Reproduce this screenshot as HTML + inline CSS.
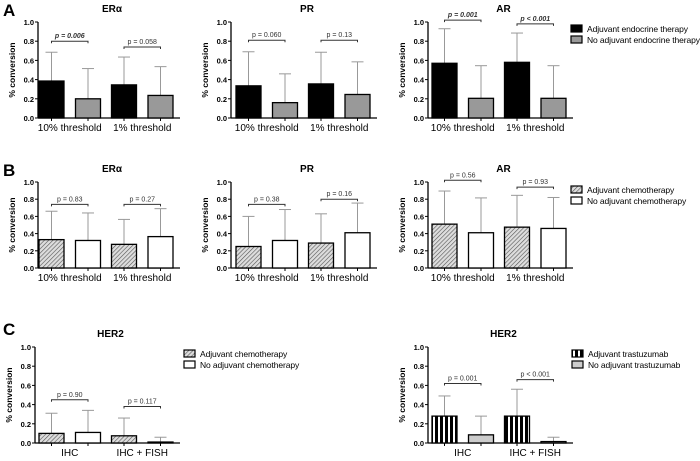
<!DOCTYPE html>
<html><head><meta charset="utf-8"><style>
body{margin:0;background:#fff}
svg{display:block;font-family:"Liberation Sans",Arial,sans-serif}
</style></head><body>
<svg id="fig" width="700" height="461" viewBox="0 0 700 461" xmlns="http://www.w3.org/2000/svg">
<defs>
<pattern id="hatch" width="3" height="3" patternUnits="userSpaceOnUse" patternTransform="rotate(45)"><rect width="3" height="3" fill="#ddd"/><line x1="0" y1="0" x2="0" y2="3" stroke="#555" stroke-width="1.2"/></pattern>
<pattern id="vstripe" width="5" height="5" patternUnits="userSpaceOnUse"><rect width="5" height="5" fill="#fff"/><rect width="3" height="5" fill="#000"/></pattern>
</defs>
<text x="3" y="16" font-size="17" font-weight="bold">A</text>
<text x="3" y="176" font-size="17" font-weight="bold">B</text>
<text x="3" y="335" font-size="17" font-weight="bold">C</text>
</svg>
<script>
const categoriesAB = ["10% threshold", "1% threshold"];
const categoriesC = ["IHC", "IHC + FISH"];
const yTicks = ["0.0", "0.2", "0.4", "0.6", "0.8", "1.0"];
const aEr = [0.385, 0.20, 0.345, 0.235];
const aErErr = [0.685, 0.515, 0.635, 0.535];
const aPr = [0.335, 0.16, 0.355, 0.245];
const aPrErr = [0.69, 0.46, 0.685, 0.585];
const aAr = [0.57, 0.205, 0.58, 0.205];
const aArErr = [0.93, 0.545, 0.885, 0.545];
const bEr = [0.33, 0.32, 0.275, 0.365];
const bErErr = [0.66, 0.64, 0.565, 0.69];
const bPr = [0.25, 0.32, 0.29, 0.41];
const bPrErr = [0.60, 0.68, 0.63, 0.755];
const bAr = [0.51, 0.41, 0.475, 0.46];
const bArErr = [0.895, 0.815, 0.845, 0.82];
const cChemo = [0.10, 0.11, 0.075, 0.01];
const cChemoErr = [0.31, 0.34, 0.26, 0.06];
const cTrast = [0.28, 0.085, 0.28, 0.015];
const cTrastErr = [0.49, 0.28, 0.56, 0.06];
const pA1 = ["p = 0.006", "p = 0.058"]; const pA1y = [0.80, 0.74];
const pA2 = ["p = 0.060", "p = 0.13"]; const pA2y = [0.81, 0.81];
const pA3 = ["p = 0.001", "p < 0.001"]; const pA3y = [1.02, 0.98];
const pB1 = ["p = 0.83", "p = 0.27"]; const pB1y = [0.74, 0.74];
const pB2 = ["p = 0.38", "p = 0.16"]; const pB2y = [0.74, 0.80];
const pB3 = ["p = 0.56", "p = 0.93"]; const pB3y = [1.02, 0.94];
const pC1 = ["p = 0.90", "p = 0.117"]; const pC1y = [0.45, 0.38];
const pC2 = ["p = 0.001", "p < 0.001"]; const pC2y = [0.62, 0.66];

const svg = document.getElementById('fig');
const NS = 'http://www.w3.org/2000/svg';
function mk(tag, attrs, parent){const e=document.createElementNS(NS,tag);for(const k in attrs)e.setAttribute(k,attrs[k]);(parent||svg).appendChild(e);return e;}

function chart(o){
  const g = mk('g',{});
  
  
  const y = v => o.y0 - v*(o.y0-o.y1);
  const offs=[0,36.5,72.5,109];
  const bx = i => o.b0 + offs[i];
  const xEnd = o.b0+109+25+7;
  const t = mk('text',{x:(o.ax+xEnd)/2+3,y:o.y1-10,'font-size':10,'font-weight':'bold','text-anchor':'middle'},g);
  t.textContent=o.title;
  
  
  const yl = mk('text',{x:0,y:0,'font-size':8.5,'font-weight':'bold','text-anchor':'middle',transform:`translate(${o.ax-23},${(o.y0+o.y1)/2}) rotate(-90)`},g);
  yl.textContent='% conversion';
  
  
  mk('line',{x1:o.ax,y1:o.y1,x2:o.ax,y2:o.y0,stroke:'#000','stroke-width':1.3},g);
  mk('line',{x1:o.ax,y1:o.y0,x2:xEnd,y2:o.y0,stroke:'#000','stroke-width':1.3},g);
  yTicks.forEach((lab,i)=>{
    const v=i*0.2;
    mk('line',{x1:o.ax-3,y1:y(v),x2:o.ax,y2:y(v),stroke:'#000'},g);
    const tt=mk('text',{x:o.ax-4,y:y(v)+3,'font-size':7.5,'font-weight':'bold','text-anchor':'end'},g);
    tt.textContent=lab;
    
    
  });
  o.vals.forEach((v,i)=>{
    const cx=bx(i)+12.5;
    mk('line',{x1:cx,y1:y(v),x2:cx,y2:y(o.err[i]),stroke:'#999','stroke-width':1},g);
    mk('line',{x1:cx-6,y1:y(o.err[i]),x2:cx+6,y2:y(o.err[i]),stroke:'#999','stroke-width':1},g);
    const r=mk('rect',{x:bx(i),y:y(v),width:25,height:o.y0-y(v),fill:o.fills[i%2],stroke:'#000','stroke-width':1.3},g);
    
    
  });
  o.cats.forEach((c,k)=>{
    const cx=(bx(2*k)+bx(2*k+1)+25)/2;
    mk('line',{x1:bx(2*k)+12.5,y1:o.y0,x2:bx(2*k)+12.5,y2:o.y0+3,stroke:'#000'},g);
    mk('line',{x1:bx(2*k+1)+12.5,y1:o.y0,x2:bx(2*k+1)+12.5,y2:o.y0+3,stroke:'#000'},g);
    const ct=mk('text',{x:cx,y:o.y0+13,'font-size':10,'text-anchor':'middle'},g);
    ct.textContent=c;
    
    
    const py=y(o.py[k]);
    const x1=bx(2*k)+12.5, x2=bx(2*k+1)+12.5;
    mk('path',{d:`M${x1},${py+2}V${py}H${x2}V${py+2}`,stroke:'#333',fill:'none','stroke-width':1},g);
    const pt=mk('text',{x:(x1+x2)/2,y:py-3,'font-size':7,'text-anchor':'middle',fill:'#333'},g);
    if(o.bold && o.bold[k]){pt.setAttribute('font-weight','bold');pt.setAttribute('font-style','italic');}
    pt.textContent=o.p[k];
    
    
  });
}
function legend(x,y,items,name){
  const g=mk('g',{});
  
  
  items.forEach((it,i)=>{
    mk('rect',{x:x,y:y+i*11,width:11,height:7,fill:it[0],stroke:'#000','stroke-width':1.2},g);
    const t=mk('text',{x:x+16,y:y+i*11+7,'font-size':8.5,'letter-spacing':'-0.1'},g);
    t.textContent=it[1];
    
    
  });
}
const ya={y0:118,y1:22}, yb={y0:268,y1:182}, yc={y0:443,y1:347};
chart(Object.assign({name:'chart-a-era',title:'ERα',ax:38,b0:39,vals:aEr,err:aErErr,fills:['#000','#999'],cats:categoriesAB,p:pA1,py:pA1y,bold:[true,false]},ya));
chart(Object.assign({name:'chart-a-pr',title:'PR',ax:231,b0:236,vals:aPr,err:aPrErr,fills:['#000','#999'],cats:categoriesAB,p:pA2,py:pA2y},ya));
chart(Object.assign({name:'chart-a-ar',title:'AR',ax:428,b0:432,vals:aAr,err:aArErr,fills:['#000','#999'],cats:categoriesAB,p:pA3,py:pA3y,bold:[true,true]},ya));
chart(Object.assign({name:'chart-b-era',title:'ERα',ax:38,b0:39,vals:bEr,err:bErErr,fills:['url(#hatch)','#fff'],cats:categoriesAB,p:pB1,py:pB1y},yb));
chart(Object.assign({name:'chart-b-pr',title:'PR',ax:231,b0:236,vals:bPr,err:bPrErr,fills:['url(#hatch)','#fff'],cats:categoriesAB,p:pB2,py:pB2y},yb));
chart(Object.assign({name:'chart-b-ar',title:'AR',ax:428,b0:432,vals:bAr,err:bArErr,fills:['url(#hatch)','#fff'],cats:categoriesAB,p:pB3,py:pB3y},yb));
chart(Object.assign({name:'chart-c-her2-chemo',title:'HER2',ax:35,b0:39,vals:cChemo,err:cChemoErr,fills:['url(#hatch)','#fff'],cats:categoriesC,p:pC1,py:pC1y},yc));
chart(Object.assign({name:'chart-c-her2-trastuzumab',title:'HER2',ax:428,b0:432,vals:cTrast,err:cTrastErr,fills:['url(#vstripe)','#ccc'],cats:categoriesC,p:pC2,py:pC2y},yc));
legend(571,25,[['#000','Adjuvant endocrine therapy'],['#999','No adjuvant endocrine therapy']],'legend-a');
legend(571,186,[['url(#hatch)','Adjuvant chemotherapy'],['#fff','No adjuvant chemotherapy']],'legend-b');
legend(184,350,[['url(#hatch)','Adjuvant chemotherapy'],['#fff','No adjuvant chemotherapy']],'legend-c-left');
legend(572,350,[['url(#vstripe)','Adjuvant trastuzumab'],['#ccc','No adjuvant trastuzumab']],'legend-c-right');
</script>
</body></html>
